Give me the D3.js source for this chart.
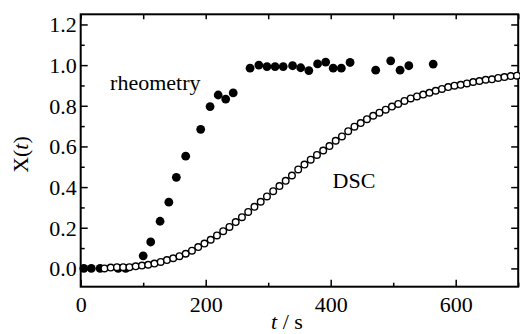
<!DOCTYPE html>
<html>
<head>
<meta charset="utf-8">
<script src="https://cdn.jsdelivr.net/npm/d3@7"></script>
<style>
  body { margin: 0; background: #fff; }
</style>
</head>
<body>
<svg width="520" height="334"></svg>
<script>
// rheometry (filled dots)
const rheoT = [5, 17, 31, 60, 72, 100, 112, 127, 141, 153, 168, 192, 207, 220, 232, 244,
  271, 285, 298, 311, 324, 339, 352, 365, 379, 392, 404, 417, 431, 472, 496, 511, 525, 564]
const rheoX = [0.0, 0.0, 0.0, 0.0, 0.0, 0.062, 0.13, 0.232, 0.326, 0.448, 0.552, 0.684, 0.796, 0.853, 0.833, 0.863,
  0.985, 1.0, 0.993, 0.993, 0.993, 0.997, 0.987, 0.973, 1.006, 1.015, 0.985, 0.985, 1.013, 0.975, 1.021, 0.975, 0.997, 1.005]

// DSC (open circles)
const dscT = [38, 48, 58, 68, 78, 88, 98, 108, 118, 128, 138, 148, 158, 168, 178, 188, 198, 208, 218, 228,
  238, 248, 258, 268, 278, 288, 298, 308, 318, 328, 338, 348, 358, 368, 378, 388, 398, 408, 418, 428,
  438, 448, 458, 468, 478, 488, 498, 508, 518, 528, 538, 548, 558, 568, 578, 588, 598, 608, 618, 628,
  638, 648, 658, 668, 678, 688, 698]
const dscX = [0.0, 0.004, 0.006, 0.006, 0.006, 0.010, 0.014, 0.018, 0.024, 0.032, 0.041, 0.050, 0.060, 0.072, 0.087, 0.105, 0.122, 0.141, 0.162, 0.183,
  0.204, 0.228, 0.252, 0.278, 0.303, 0.328, 0.354, 0.380, 0.405, 0.431, 0.457, 0.487, 0.511, 0.535, 0.558, 0.580, 0.602, 0.628, 0.649, 0.675,
  0.697, 0.715, 0.734, 0.751, 0.766, 0.781, 0.796, 0.809, 0.824, 0.836, 0.846, 0.855, 0.864, 0.874, 0.883, 0.892, 0.899, 0.903, 0.910, 0.917,
  0.922, 0.928, 0.930, 0.937, 0.941, 0.946, 0.948]

const xTicks = [0, 200, 400, 600]
const xMinor = [100, 300, 500, 700]
const yTicks = [0.0, 0.2, 0.4, 0.6, 0.8, 1.0, 1.2]
const yMinor = [0.1, 0.3, 0.5, 0.7, 0.9, 1.1]

const margin = { top: 14.3, right: 1.8, bottom: 47.3, left: 80.7 }
const width = 520, height = 334
const serif = '"Liberation Serif", "Times New Roman", Times, "DejaVu Serif", serif'

const svg = d3.select('svg').attr('font-family', serif)

const x = d3.scaleLinear().domain([0, 700]).range([margin.left, width - margin.right])
const y = d3.scaleLinear().domain([-0.09, 1.25]).range([height - margin.bottom, margin.top])

// draws ticks pointing inwards; len is negative for inward direction
const ticks = (g, ax, values, len, fmt) => g
  .call(ax.tickValues(values).tickSize(len).tickPadding(fmt ? 10 : 0).tickFormat(fmt || ''))
  .attr('font-family', serif)
  .attr('font-size', 22)
  .call(g => g.select('.domain').remove())
  .call(g => g.selectAll('.tick line').attr('stroke-width', 1.5))

const atBottom = `translate(0,${y.range()[0]})`
const atTop = `translate(0,${y.range()[1]})`
const atLeft = `translate(${x.range()[0]},0)`
const atRight = `translate(${x.range()[1]},0)`

svg.append('g').attr('transform', atBottom).call(g => ticks(g, d3.axisBottom(x), xTicks, -7, d3.format('d')))
svg.append('g').attr('transform', atBottom).call(g => ticks(g, d3.axisBottom(x), xMinor, -4))
svg.append('g').attr('transform', atTop).call(g => ticks(g, d3.axisTop(x), xTicks.concat(xMinor), -5))

svg.append('g').attr('transform', atLeft).call(g => ticks(g, d3.axisLeft(y), yTicks, -7, d3.format('.1f')))
  .call(g => g.selectAll('.tick text').attr('x', -4).attr('dy', '0.34em'))
svg.append('g').attr('transform', atLeft).call(g => ticks(g, d3.axisLeft(y), yMinor, -4))
svg.append('g').attr('transform', atRight).call(g => ticks(g, d3.axisRight(y), yTicks, -7))
svg.append('g').attr('transform', atRight).call(g => ticks(g, d3.axisRight(y), yMinor, -4))

// frame
svg.append('rect')
  .attr('x', x.range()[0]).attr('y', y.range()[1])
  .attr('width', x.range()[1] - x.range()[0])
  .attr('height', y.range()[0] - y.range()[1])
  .attr('fill', 'none').attr('stroke', '#000').attr('stroke-width', 2)

// rheometry
svg.append('g')
  .selectAll('circle')
  .data(rheoT)
  .join('circle')
  .attr('cx', d => x(d))
  .attr('cy', (d, i) => y(rheoX[i]))
  .attr('r', 4.4)
  .attr('fill', '#000')

// DSC
svg.append('g')
  .selectAll('circle')
  .data(dscT)
  .join('circle')
  .attr('cx', d => x(d))
  .attr('cy', (d, i) => y(dscX[i]))
  .attr('r', 3.3)
  .attr('fill', '#fff')
  .attr('stroke', '#000')
  .attr('stroke-width', 1.4)

// labels
svg.append('text').attr('x', x(47)).attr('y', y(0.877)).attr('font-size', 22).text('rheometry')
svg.append('text').attr('x', x(403)).attr('y', y(0.397)).attr('font-size', 22).text('DSC')

svg.append('text')
  .attr('x', 287).attr('y', 329)
  .attr('text-anchor', 'middle').attr('font-size', 22)
  .call(t => t.append('tspan').attr('font-style', 'italic').text('t'))
  .call(t => t.append('tspan').text(' / s'))

svg.append('text')
  .attr('transform', `translate(28,${(y.range()[0] + y.range()[1]) / 2 + 4}) rotate(-90)`)
  .attr('text-anchor', 'middle').attr('font-size', 22)
  .call(t => t.append('tspan').text('X('))
  .call(t => t.append('tspan').attr('font-style', 'italic').text('t'))
  .call(t => t.append('tspan').text(')'))
</script>
</body>
</html>
